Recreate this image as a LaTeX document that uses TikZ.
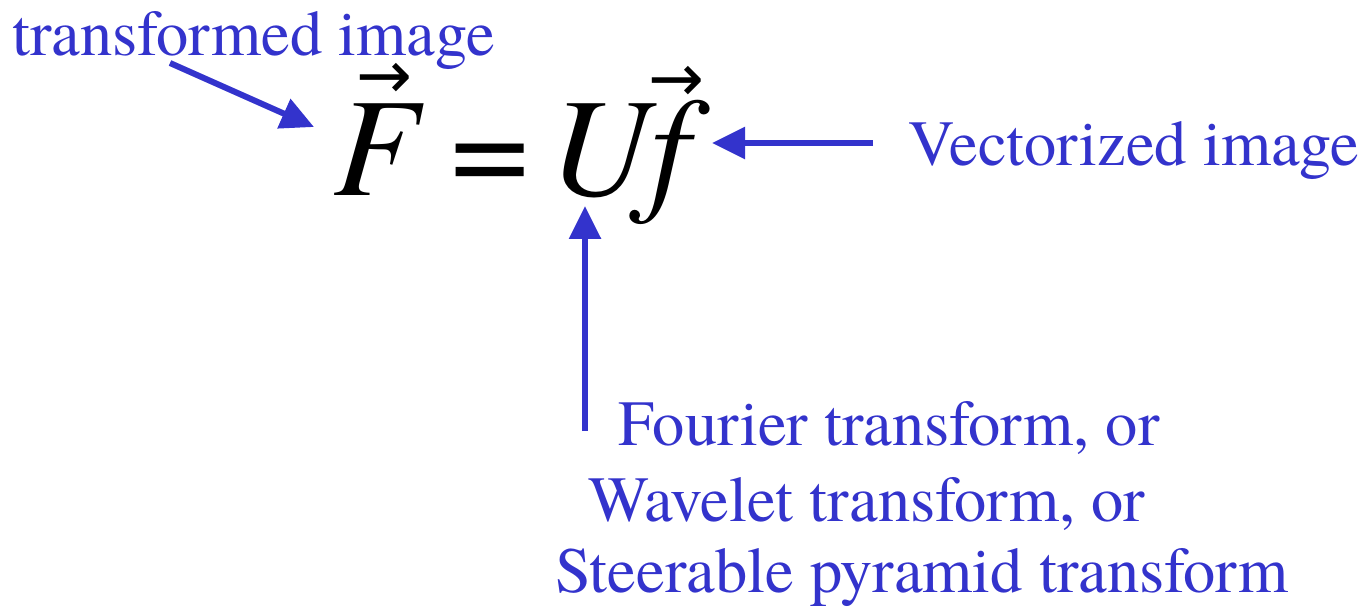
\documentclass[tikz,border=0pt]{standalone}
\usepackage{fontspec}
\setmainfont{texgyretermes}[
  Extension=.otf, UprightFont=*-regular, ItalicFont=*-italic,
  BoldFont=*-bold, BoldItalicFont=*-bolditalic]
\newfontfamily\arrowfont{DejaVu Sans}
\usetikzlibrary{arrows.meta}

\definecolor{labelblue}{RGB}{51,51,204}

% arrow accent over a letter: #1 = shift right, #2 = raise
\newcommand{\arrowacc}[3]{%
  \rlap{\hspace*{#1}\raisebox{#2}{\arrowfont\fontsize{38}{38}\selectfont →}}#3}

\begin{document}
\begin{tikzpicture}[
  x=0.02cm, y=-0.02cm,
  labeltext/.style={
    anchor=base west, inner sep=0pt, text=labelblue,
    font=\fontsize{36.7}{44}\selectfont
  },
  ptr/.style={-{Triangle[length=0.66cm, width=0.62cm]}, labelblue, line width=0.12cm},
]
\useasboundingbox (0,0) rectangle (1366,609);

%% -- Equation ---------------------------------------------------------------
\node[anchor=base west, inner sep=0pt, font=\fontsize{80}{90}\selectfont] (eq) at (333,195)
  {\itshape\arrowacc{13pt}{55pt}{F}\hspace{0.22em}\upshape=\hspace{0.14em}\itshape U\arrowacc{-1pt}{53pt}{f}};

%% -- Labels -----------------------------------------------------------------
\node[labeltext] (trans) at (12,55) {transformed image};
\node[labeltext] (vecimg) at (908,165) {Vectorized image};

\node[labeltext] (four) at (618,445) {Fourier transform, or};
\node[labeltext] (wave) at (588,521) {Wavelet transform, or};
\node[labeltext] (steer) at (555,592) {Steerable pyramid transform};

%% -- Arrow ends -------------------------------------------------------------
\coordinate (transtail) at (170,63);
\coordinate (transtip)  at (314,127);
\coordinate (vectail)   at (873,143);
\coordinate (vectip)    at (712,143);
\coordinate (utail)     at (585,431);
\coordinate (utip)      at (585,206);

%% -- Arrows -----------------------------------------------------------------
\draw[ptr] (transtail) -- (transtip);
\draw[ptr] (vectail) -- (vectip);
\draw[ptr] (utail) -- (utip);

\end{tikzpicture}
\end{document}
